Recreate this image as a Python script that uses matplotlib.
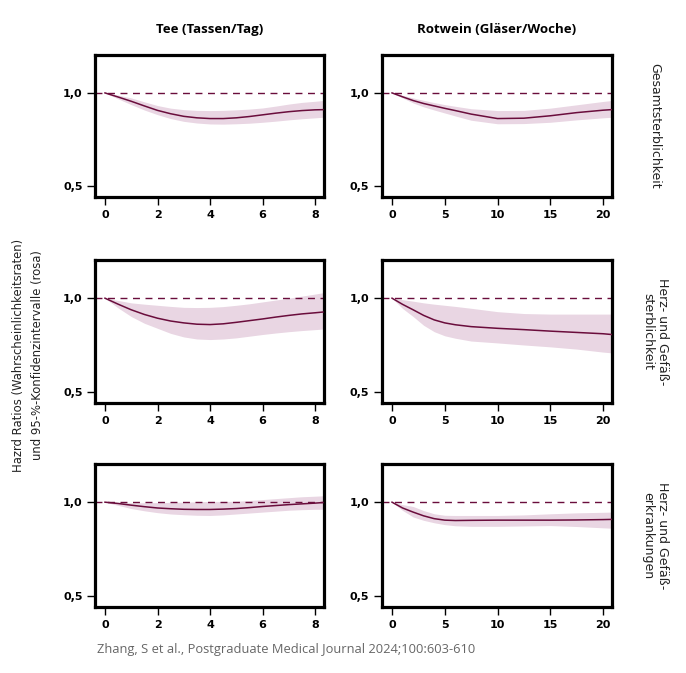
import matplotlib
matplotlib.use("Agg")
import matplotlib.pyplot as plt

# ---- data ----
tea_x = [0, 0.5, 1, 1.5, 2, 2.5, 3, 3.5, 4, 4.5, 5, 5.5, 6, 6.5, 7, 7.5, 8, 8.3]
wine_x = [0, 1, 2, 3, 4, 5, 6, 7.5, 10, 12.5, 15, 17.5, 20, 20.8]

# Row 1: Gesamtsterblichkeit
tea_all_hr = [1.0, 0.978, 0.955, 0.930, 0.906, 0.888, 0.874, 0.866, 0.862, 0.862, 0.866, 0.873, 0.882, 0.891, 0.899, 0.905, 0.909, 0.910]
tea_all_lo = [1.0, 0.968, 0.937, 0.908, 0.883, 0.862, 0.847, 0.838, 0.833, 0.832, 0.834, 0.837, 0.842, 0.848, 0.855, 0.861, 0.866, 0.869]
tea_all_hi = [1.0, 0.988, 0.973, 0.952, 0.932, 0.918, 0.910, 0.906, 0.905, 0.906, 0.909, 0.913, 0.919, 0.929, 0.940, 0.949, 0.955, 0.959]
wine_all_hr = [1.0, 0.979, 0.959, 0.943, 0.930, 0.917, 0.905, 0.886, 0.862, 0.864, 0.877, 0.894, 0.907, 0.910]
wine_all_lo = [1.0, 0.973, 0.946, 0.925, 0.908, 0.892, 0.876, 0.853, 0.834, 0.835, 0.842, 0.855, 0.866, 0.869]
wine_all_hi = [1.0, 0.987, 0.973, 0.960, 0.948, 0.937, 0.928, 0.915, 0.905, 0.906, 0.918, 0.936, 0.954, 0.959]

# Row 2: Herz- und Gefäßsterblichkeit
tea_cvd_hr = [1.0, 0.968, 0.938, 0.913, 0.893, 0.878, 0.868, 0.861, 0.859, 0.863, 0.871, 0.880, 0.889, 0.899, 0.908, 0.916, 0.922, 0.926]
tea_cvd_lo = [1.0, 0.948, 0.902, 0.866, 0.839, 0.812, 0.793, 0.782, 0.779, 0.782, 0.788, 0.797, 0.806, 0.814, 0.821, 0.827, 0.832, 0.835]
tea_cvd_hi = [1.0, 0.988, 0.975, 0.968, 0.962, 0.956, 0.951, 0.950, 0.951, 0.955, 0.962, 0.970, 0.980, 0.990, 1.000, 1.011, 1.022, 1.029]
wine_cvd_hr = [1.0, 0.967, 0.938, 0.908, 0.884, 0.868, 0.858, 0.848, 0.839, 0.832, 0.824, 0.817, 0.810, 0.806]
wine_cvd_lo = [1.0, 0.945, 0.902, 0.855, 0.821, 0.799, 0.786, 0.771, 0.761, 0.750, 0.740, 0.728, 0.712, 0.708]
wine_cvd_hi = [1.0, 0.992, 0.984, 0.975, 0.968, 0.962, 0.956, 0.946, 0.928, 0.918, 0.915, 0.915, 0.915, 0.915]

# Row 3: Herz- und Gefäßerkrankungen
tea_cvdis_hr = [1.0, 0.993, 0.984, 0.976, 0.969, 0.965, 0.962, 0.961, 0.961, 0.963, 0.966, 0.971, 0.977, 0.982, 0.987, 0.991, 0.995, 0.998]
tea_cvdis_lo = [1.0, 0.983, 0.966, 0.954, 0.944, 0.937, 0.933, 0.930, 0.929, 0.932, 0.937, 0.942, 0.947, 0.952, 0.957, 0.960, 0.962, 0.962]
tea_cvdis_hi = [1.0, 0.999, 0.997, 0.997, 0.998, 0.999, 1.000, 1.002, 1.004, 1.004, 1.005, 1.009, 1.014, 1.019, 1.024, 1.029, 1.032, 1.034]
wine_cvdis_hr = [1.0, 0.969, 0.947, 0.927, 0.912, 0.904, 0.902, 0.903, 0.904, 0.904, 0.904, 0.905, 0.907, 0.908]
wine_cvdis_lo = [1.0, 0.956, 0.921, 0.903, 0.890, 0.880, 0.874, 0.871, 0.871, 0.873, 0.875, 0.870, 0.863, 0.861]
wine_cvdis_hi = [1.0, 0.987, 0.977, 0.955, 0.938, 0.930, 0.929, 0.929, 0.929, 0.932, 0.938, 0.943, 0.946, 0.947]

col_titles = ["Tee (Tassen/Tag)", "Rotwein (Gläser/Woche)"]
row_labels = ["Gesamtsterblichkeit", "Herz- und Gefäß-\nsterblichkeit", "Herz- und Gefäß-\nerkrankungen"]
y_ticks = [0.5, 1.0]
y_ticklabels = ["0,5", "1,0"]
tea_ticks = [0, 2, 4, 6, 8]
wine_ticks = [0, 5, 10, 15, 20]
ylabel = "Hazrd Ratios (Wahrscheinlichkeitsraten)\nund 95-%-Konfidenzintervalle (rosa)"
source = "Zhang, S et al., Postgraduate Medical Journal 2024;100:603-610"

panels = [
    [(tea_x, tea_all_hr, tea_all_lo, tea_all_hi), (wine_x, wine_all_hr, wine_all_lo, wine_all_hi)],
    [(tea_x, tea_cvd_hr, tea_cvd_lo, tea_cvd_hi), (wine_x, wine_cvd_hr, wine_cvd_lo, wine_cvd_hi)],
    [(tea_x, tea_cvdis_hr, tea_cvdis_lo, tea_cvdis_hi), (wine_x, wine_cvdis_hr, wine_cvdis_lo, wine_cvdis_hi)],
]

LINE = "#6a0d3c"
BAND = "#e9d6e3"
W, H = 686, 673
fig = plt.figure(figsize=(W / 100, H / 100), dpi=100)

col_lr = [(95, 324), (382, 612)]
row_tb = [(55, 197), (260, 403), (464, 607)]
xlims = [(-0.38, 8.34), (-0.95, 20.85)]
xticks = [tea_ticks, wine_ticks]

for r in range(3):
    for c in range(2):
        l, rr = col_lr[c]
        t, b = row_tb[r]
        ax = fig.add_axes([l / W, 1 - b / H, (rr - l) / W, (b - t) / H])
        x, hr, lo, hi = panels[r][c]
        ax.fill_between(x, lo, hi, color=BAND, lw=0, zorder=1)
        ax.axhline(1.0, color=LINE, lw=1.0, ls=(0, (5, 4)), zorder=2)
        ax.plot(x, hr, color=LINE, lw=1.1, zorder=3)
        ax.set_xlim(*xlims[c])
        ax.set_ylim(0.44, 1.204)
        ax.set_yticks(y_ticks)
        ax.set_yticklabels(y_ticklabels)
        ax.set_xticks(xticks[c])
        for s in ax.spines.values():
            s.set_linewidth(2.3)
            s.set_color("black")
        ax.tick_params(direction="out", length=6, width=1.0, colors="black",
                       labelsize=8, pad=3)
        for lab in ax.get_xticklabels() + ax.get_yticklabels():
            lab.set_fontweight("bold")
            lab.set_family("DejaVu Sans")
        if r == 0:
            ax.set_title(col_titles[c], fontsize=9.5, fontweight="bold",
                         family="Open Sans", pad=16)
    # right label
    t, b = row_tb[r]
    fig.text(655 / W, 1 - ((t + b) / 2) / H, row_labels[r], rotation=-90,
             ha="center", va="center", fontsize=9, family="DejaVu Sans",
             color="#222222", linespacing=1.2)

fig.text(28 / W, 1 - 355 / H, ylabel, rotation=90, ha="center", va="center",
         fontsize=8.4, family="DejaVu Sans", color="#222222", linespacing=1.55)
fig.text(97 / W, 1 - 650 / H, source, ha="left", va="center", fontsize=9.3,
         family="Open Sans", color="#666666")

fig.savefig("out.png", dpi=100)
